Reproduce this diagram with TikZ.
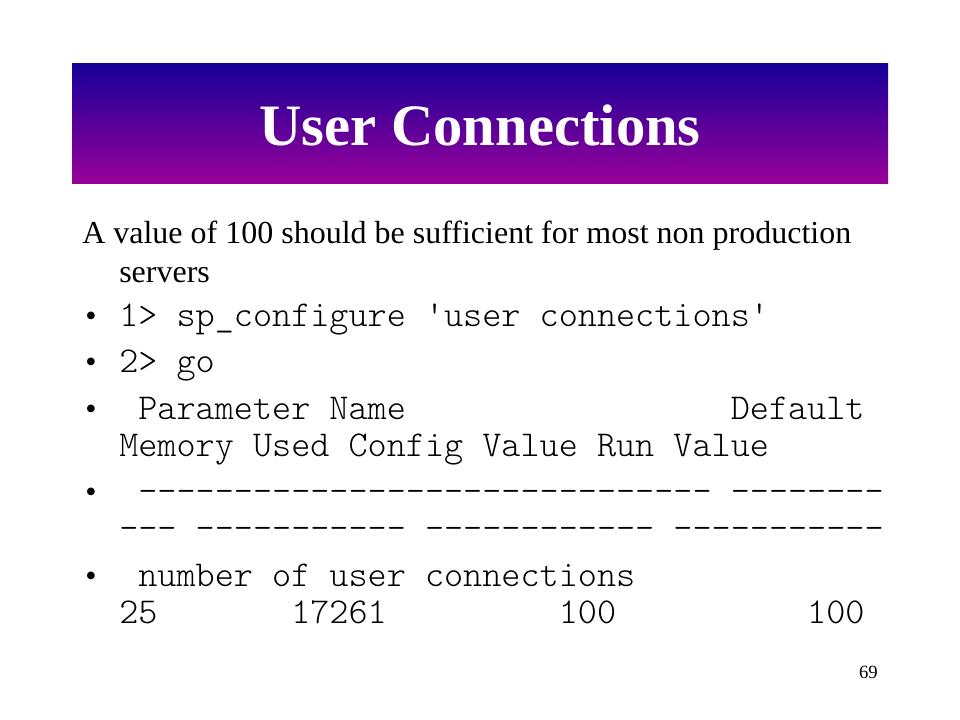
\documentclass[tikz,border=0pt]{standalone}
\usepackage{fontspec}
\setmainfont{Liberation Serif}
\setmonofont{lmmonolt10-regular.otf}
\usepackage{tikz}
\usetikzlibrary{positioning}
\definecolor{bartop}{RGB}{22,0,153}
\definecolor{barbottom}{RGB}{153,0,153}

\begin{document}
\begin{tikzpicture}[x=0.75pt,y=-0.75pt,
  plain/.style={anchor=base west,inner sep=0pt,font=\fontsize{24}{28}\selectfont},
  code/.style={anchor=base west,inner sep=0pt,font=\fontsize{27.3}{32}\selectfont\ttfamily},
  bul/.style={anchor=base west,inner sep=0pt,font=\fontsize{24}{28}\selectfont}]
\useasboundingbox (0,0) rectangle (960,720);
\fill[white] (0,0) rectangle (960,720);
\shade[top color=bartop,bottom color=barbottom] (72,64) rectangle (888,184);
\node[anchor=base,inner sep=0pt,text=white,font=\fontsize{44}{50}\selectfont\bfseries] (title) at (480,146) {User Connections};
\node[plain] (intro) at (82,244) {A value of 100 should be sufficient for most non production};
\node[plain] (intro2) at (119,283) {servers};
\node[bul] (b1) at (85,326) {•};
\node[bul] (b2) at (85,372) {•};
\node[bul] (b3) at (85,419) {•};
\node[bul] (b4) at (85,502) {•};
\node[bul] (b5) at (85,586) {•};
\node[code] (cmd) at (119,326) {1> sp\_configure 'user connections'};
\node[code] (go) at (119,372) {2> go};
\node[code] (head) at (119,419) {~Parameter Name~~~~~~~~~~~~~~~~~Default};
\node[code] (head2) at (119,456) {Memory Used Config Value Run Value};
\node[code] (rule) at (119,502) {~------------------------------~--------};
\node[code] (rule2) at (119,539) {---~-----------~------------~-----------};
\node[code] (row) at (119,586) {~number of user connections};
\node[code] (row2) at (119,623) {25~~~~~~~17261~~~~~~~~~100~~~~~~~~~~100};
\node[anchor=base east,inner sep=0pt,font=\fontsize{14}{16}\selectfont] (page) at (878,678) {69};
\end{tikzpicture}
\end{document}
